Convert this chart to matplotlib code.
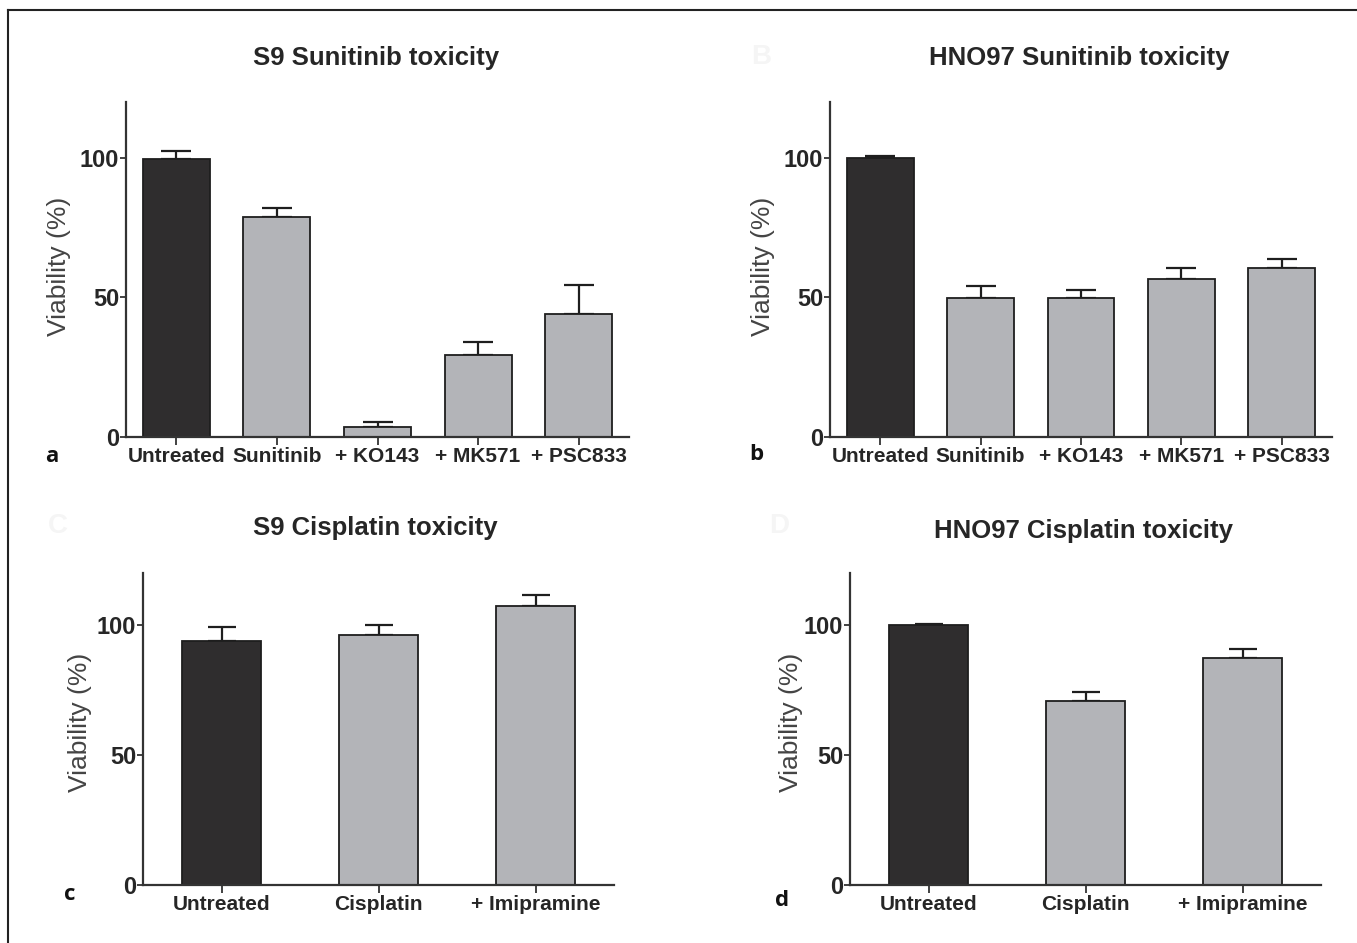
import matplotlib
matplotlib.use("Agg")
import matplotlib.pyplot as plt
from matplotlib.lines import Line2D

plt.rcParams['font.family'] = ['Liberation Sans', 'DejaVu Sans']

W, H = 1357, 943

# ---- data ----
sun_categories = ["Untreated", "Sunitinib", "+ KO143", "+ MK571", "+ PSC833"]
s9_sun_values = [99.6, 78.8, 3.5, 29.4, 44.0]
s9_sun_err = [2.8, 3.3, 1.8, 4.6, 10.5]
hno_sun_values = [100.0, 49.8, 49.8, 56.7, 60.5]
hno_sun_err = [0.6, 4.4, 2.9, 3.8, 3.3]

cis_categories = ["Untreated", "Cisplatin", "+ Imipramine"]
s9_cis_values = [94.0, 96.2, 107.3]
s9_cis_err = [5.3, 3.8, 4.2]
hno_cis_values = [100.0, 70.8, 87.4]
hno_cis_err = [0.5, 3.3, 3.4]

titles = ["S9 Sunitinib toxicity", "HNO97 Sunitinib toxicity",
          "S9 Cisplatin toxicity", "HNO97 Cisplatin toxicity"]
panel_letters = ["a", "b", "c", "d"]
ghost_letters = ["B", "C", "D"]
yticks = [0, 50, 100]

DARK = "#2f2d2e"
GRAY = "#b3b4b8"
EDGE = "#1e1e1e"
TXT = "#262626"

fig = plt.figure(figsize=(W / 100, H / 100), dpi=100)


def px_axes(l, r, t, b):
    return fig.add_axes([l / W, 1 - b / H, (r - l) / W, (b - t) / H])


def draw(ax, cats, vals, errs, width, capsize, title, tcenter, label_x, label_y):
    x = list(range(len(cats)))
    colors = [DARK] + [GRAY] * (len(cats) - 1)
    ax.errorbar(x, vals, yerr=[[0] * len(vals), errs], fmt='none',
                ecolor=EDGE, elinewidth=1.6, capsize=capsize, capthick=1.6, zorder=1)
    ax.bar(x, vals, width=width, color=colors, edgecolor=EDGE, linewidth=1.3, zorder=2)
    ax.set_xlim(-0.5, len(cats) - 0.5)
    ax.set_ylim(0, 120)
    ax.set_yticks(yticks)
    ax.set_xticks(x)
    ax.set_xticklabels(cats, fontsize=15, fontweight='bold', color=TXT)
    for lab in ax.get_yticklabels():
        lab.set_fontsize(17)
        lab.set_fontweight('bold')
        lab.set_color(TXT)
    ax.tick_params(axis='y', length=4, width=1.3, pad=1, color="#333333")
    ax.tick_params(axis='x', length=6, width=1.3, pad=1.5, color="#333333")
    for s in ['top', 'right']:
        ax.spines[s].set_visible(False)
    for s in ['left', 'bottom']:
        ax.spines[s].set_linewidth(1.6)
        ax.spines[s].set_color("#333333")
    ax.set_ylabel("Viability (%)", fontsize=19, color="#444444")
    ax.yaxis.set_label_coords(label_x, label_y)
    fig.text(tcenter[0] / W, 1 - tcenter[1] / H, title, ha='center', va='center',
             fontsize=18.5, fontweight='bold', color=TXT)


ax_a = px_axes(126, 629, 102, 437)
draw(ax_a, sun_categories, s9_sun_values, s9_sun_err, 0.667, 11,
     titles[0], (376, 58), -0.11, 0.51)
ax_b = px_axes(830, 1332, 102, 437)
draw(ax_b, sun_categories, hno_sun_values, hno_sun_err, 0.667, 11,
     titles[1], (1079, 58), -0.11, 0.51)
ax_c = px_axes(143, 614, 573, 885)
draw(ax_c, cis_categories, s9_cis_values, s9_cis_err, 0.5, 10,
     titles[2], (375, 528), -0.108, 0.52)
ax_d = px_axes(850, 1321, 573, 885)
draw(ax_d, cis_categories, hno_cis_values, hno_cis_err, 0.5, 10,
     titles[3], (1084, 531), -0.10, 0.52)

# panel letters
for letter, (px, py) in zip(panel_letters, [(52, 456), (756, 455), (70, 894), (782, 901)]):
    fig.text(px / W, 1 - py / H, letter, ha='center', va='center',
             fontsize=16, fontweight='bold', color="#111111", family=['Open Sans', 'DejaVu Sans'])

# faint ghost letters
for letter, (px, py) in zip(ghost_letters, [(761, 57), (58, 526), (779, 526)]):
    fig.text(px / W, 1 - py / H, letter, ha='center', va='center',
             fontsize=20, fontweight='bold', color="#f5f5f5")

# frame lines (top and left)
fig.add_artist(Line2D([8 / W, 1.0], [1 - 10 / H, 1 - 10 / H], color="#222222", linewidth=1.5))
fig.add_artist(Line2D([8 / W, 8 / W], [0.0, 1 - 10 / H], color="#222222", linewidth=1.5))

fig.savefig("out.png", dpi=100, facecolor='white')
